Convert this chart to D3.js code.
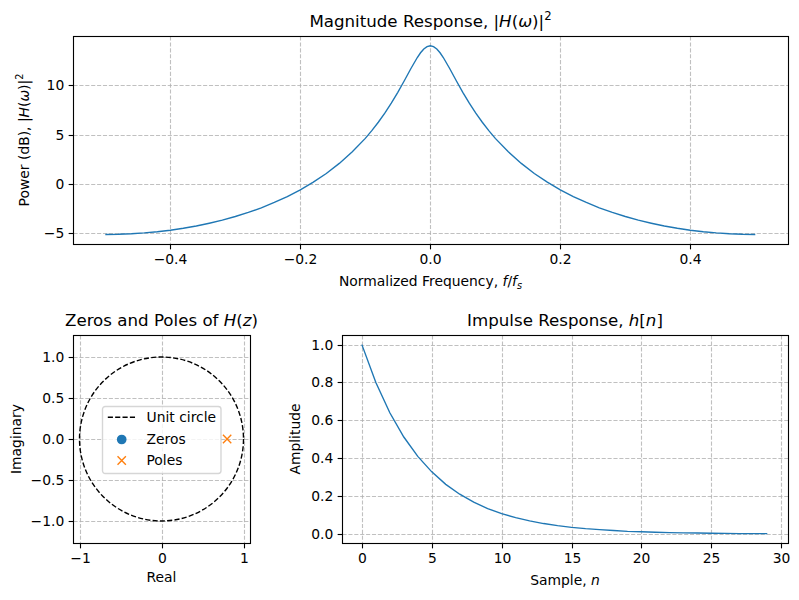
<!DOCTYPE html>
<html>
<head>
<meta charset="utf-8">
<script src="https://cdn.jsdelivr.net/npm/d3@7"></script>
<style>
  body { margin: 0; background: #fff; }
  text { font-family: "DejaVu Sans"; fill: #000; }
  .tick text { font-size: 13.89px; font-family: "DejaVu Sans"; }
  .tick line { stroke: #000; stroke-width: 1.11px; }
  .domain { display: none; }
  .grid line { stroke: #b0b0b0; stroke-opacity: 0.8; stroke-width: 1.11px; stroke-dasharray: 4.11 1.78; }
</style>
</head>
<body>
<div id="graph"></div>
<script>
const width = 799;
const height = 600;

const freq = [-0.5, -0.48, -0.46, -0.44, -0.42, -0.4, -0.38, -0.36, -0.34, -0.32, -0.3, -0.28, -0.26, -0.24, -0.22, -0.2,
  -0.18, -0.16, -0.14, -0.12, -0.1, -0.09, -0.08, -0.07, -0.06, -0.05, -0.04, -0.03, -0.02, -0.015, -0.01, -0.005,
  0, 0.005, 0.01, 0.015, 0.02, 0.03, 0.04, 0.05, 0.06, 0.07, 0.08, 0.09, 0.1,
  0.12, 0.14, 0.16, 0.18, 0.2, 0.22, 0.24, 0.26, 0.28, 0.3, 0.32, 0.34, 0.36, 0.38, 0.4, 0.42, 0.44, 0.46, 0.48, 0.5];
const powerDb = [-5.11, -5.09, -5.04, -4.95, -4.83, -4.68, -4.48, -4.25, -3.97, -3.66, -3.29, -2.88, -2.41, -1.87, -1.27, -0.59,
  0.18, 1.06, 2.08, 3.25, 4.61, 5.39, 6.24, 7.16, 8.17, 9.27, 10.44, 11.65, 12.79, 13.27, 13.65, 13.89,
  13.98, 13.89, 13.65, 13.27, 12.79, 11.65, 10.44, 9.27, 8.17, 7.16, 6.24, 5.39, 4.61,
  3.25, 2.08, 1.06, 0.18, -0.59, -1.27, -1.87, -2.41, -2.88, -3.29, -3.66, -3.97, -4.25, -4.48, -4.68, -4.83, -4.95, -5.04, -5.09, -5.11];

const samples = [0, 1, 2, 3, 4, 5, 6, 7, 8, 9, 10, 11, 12, 13, 14, 15, 16, 17, 18, 19, 20, 21, 22, 23, 24, 25, 26, 27, 28, 29];
const impulse = [1, 0.8, 0.64, 0.512, 0.41, 0.328, 0.262, 0.21, 0.168, 0.134, 0.107, 0.086, 0.069, 0.055, 0.044, 0.035,
  0.028, 0.023, 0.018, 0.014, 0.012, 0.009, 0.007, 0.006, 0.005, 0.004, 0.003, 0.002, 0.002, 0.002];

const polesRe = [0.8];
const polesIm = [0];
const unitRadius = [1];
const legendLabels = ['Unit circle', 'Zeros', 'Poles'];

const freqTicks = [-0.4, -0.2, 0, 0.2, 0.4];
const powerTicks = [-5, 0, 5, 10];
const reTicks = [-1, 0, 1];
const imTicks = [-1, -0.5, 0, 0.5, 1];
const sampleTicks = [0, 5, 10, 15, 20, 25, 30];
const ampTicks = [0, 0.2, 0.4, 0.6, 0.8, 1];

const blue = '#1f77b4';
const orange = '#ff7f0e';

const svg = d3.select('#graph')
  .append('svg')
  .attr('width', width)
  .attr('height', height)
  .style('display', 'block');

const minus = s => s.replace('-', '\u2212');
const fmt1 = d => minus(d3.format('.1f')(d));
const fmt0 = d => minus(d3.format('d')(d));
// thin lines sit on pixel centres
const snap = v => Math.round(v) + 0.5;

// text made of runs, so the math parts can be oblique or raised
function addText(parent, x, y, size, runs, rotate) {
  const t = parent.append('text')
    .attr('transform', `translate(${x},${y})` + (rotate ? ' rotate(-90)' : ''))
    .attr('text-anchor', 'middle')
    .style('font-size', size + 'px');
  let shift = 0;
  for (const r of runs) {
    const run = typeof r === 'string' ? {t: r} : r;
    const ts = t.append('tspan').text(run.t);
    if (run.i) ts.style('font-style', 'italic');
    const want = run.sup ? -size * 0.42 : run.sub ? size * 0.18 : 0;
    if (want !== shift) ts.attr('dy', want - shift);
    shift = want;
    if (run.sup || run.sub) ts.style('font-size', size * 0.7 + 'px');
  }
  return t;
}

function makeAxes(box, xDomain, yDomain, xTicks, yTicks, xFmt, yFmt) {
  const x = d3.scaleLinear().domain(xDomain).range([box.left, box.right]);
  const y = d3.scaleLinear().domain(yDomain).range([box.bottom, box.top]);
  const g = svg.append('g');
  const l = snap(box.left), r = snap(box.right), t = snap(box.top), b = snap(box.bottom);

  g.append('g').attr('class', 'grid').selectAll('line').data(xTicks).join('line')
    .attr('x1', d => snap(x(d))).attr('x2', d => snap(x(d)))
    .attr('y1', t).attr('y2', b);
  g.append('g').attr('class', 'grid').selectAll('line').data(yTicks).join('line')
    .attr('x1', l).attr('x2', r)
    .attr('y1', d => snap(y(d))).attr('y2', d => snap(y(d)));

  const marks = g.append('g');
  const over = g.append('g');

  const xAxis = over.append('g').attr('transform', `translate(0,${b})`)
    .call(d3.axisBottom(x).tickValues(xTicks).tickFormat(xFmt).tickSize(4.86).tickPadding(4.4));
  xAxis.selectAll('.tick').attr('transform', d => `translate(${snap(x(d))},0)`);
  const yAxis = over.append('g').attr('transform', `translate(${l},0)`)
    .call(d3.axisLeft(y).tickValues(yTicks).tickFormat(yFmt).tickSize(4.86).tickPadding(4.4));
  yAxis.selectAll('.tick').attr('transform', d => `translate(0,${snap(y(d))})`);

  over.append('rect')
    .attr('x', l).attr('y', t)
    .attr('width', r - l).attr('height', b - t)
    .attr('fill', 'none').attr('stroke', '#000').attr('stroke-width', 1.11);

  return {x, y, marks, over};
}

function addCurve(ax, xs, ys) {
  const line = d3.line().x(i => ax.x(xs[i])).y(i => ax.y(ys[i]));
  ax.marks.append('path')
    .attr('d', line(d3.range(xs.length)))
    .attr('fill', 'none')
    .attr('stroke', blue)
    .attr('stroke-width', 1.39);
}

// magnitude response
const axMag = makeAxes({left: 72.8, right: 787.8, top: 36.34, bottom: 243.9},
  [-0.55, 0.55], [-6.06, 14.93], freqTicks, powerTicks, fmt1, fmt0);
addCurve(axMag, freq, powerDb);
addText(svg, 430.5, 27, 16.67, ['Magnitude Response, |', {t: 'H', i: 1}, '(', {t: 'ω', i: 1}, ')|', {t: '2', sup: 1}]);
addText(svg, 430.5, 286, 13.89, ['Normalized Frequency, ', {t: 'f', i: 1}, '/', {t: 'f', i: 1}, {t: 's', i: 1, sub: 1}]);
addText(svg, 29, 140, 13.89, ['Power (dB), |', {t: 'H', i: 1}, '(', {t: 'ω', i: 1}, ')|', {t: '2', sup: 1}], true);

// zeros and poles
const axPz = makeAxes({left: 72.94, right: 250.06, top: 334.86, bottom: 543.14},
  [-1.08, 1.08], [-1.27, 1.27], reTicks, imTicks, fmt0, fmt1);
axPz.marks.selectAll('ellipse').data(unitRadius).join('ellipse')
  .attr('cx', axPz.x(0)).attr('cy', axPz.y(0))
  .attr('rx', d => axPz.x(d) - axPz.x(0))
  .attr('ry', d => axPz.y(0) - axPz.y(d))
  .attr('fill', 'none').attr('stroke', '#000')
  .attr('stroke-width', 1.39).attr('stroke-dasharray', '5.14 2.22');
const crossPath = 'M-4.17,-4.17L4.17,4.17M-4.17,4.17L4.17,-4.17';
axPz.marks.selectAll('.pole').data(polesRe).join('path')
  .attr('class', 'pole')
  .attr('transform', (d, i) => `translate(${axPz.x(d)},${axPz.y(polesIm[i])})`)
  .attr('d', crossPath)
  .attr('fill', 'none').attr('stroke', orange).attr('stroke-width', 1.39);

// legend
const lg = axPz.over.append('g').attr('transform', 'translate(102.5,406.5)');
lg.append('rect').attr('width', 118.5).attr('height', 67).attr('rx', 2.8)
  .attr('fill', '#fff').attr('fill-opacity', 0.8)
  .attr('stroke', '#ccc').attr('stroke-opacity', 0.8).attr('stroke-width', 1.39);
const rows = [10.8, 33, 54];
lg.selectAll('.lab').data(legendLabels).join('text')
  .attr('class', 'lab')
  .attr('x', 44).attr('y', (d, i) => rows[i] + 4.6)
  .style('font-size', '13.89px')
  .text(d => d);
lg.append('line').attr('x1', 5.3).attr('x2', 33.1).attr('y1', rows[0]).attr('y2', rows[0])
  .attr('stroke', '#000').attr('stroke-width', 1.39).attr('stroke-dasharray', '5.14 2.22');
lg.append('circle').attr('cx', 19.2).attr('cy', rows[1]).attr('r', 4.86).attr('fill', blue);
lg.append('path').attr('transform', `translate(19.2,${rows[2]})`).attr('d', crossPath)
  .attr('fill', 'none').attr('stroke', orange).attr('stroke-width', 1.39);

addText(svg, 161.5, 326, 16.67, ['Zeros and Poles of ', {t: 'H', i: 1}, '(', {t: 'z', i: 1}, ')']);
addText(svg, 161.5, 582, 13.89, ['Real']);
addText(svg, 21, 439, 13.89, ['Imaginary'], true);

// impulse response
const axImp = makeAxes({left: 341.6, right: 787.56, top: 335.16, bottom: 543.44},
  [-1.45, 30.45], [-0.05, 1.05], sampleTicks, ampTicks, fmt0, fmt1);
addCurve(axImp, samples, impulse);
addText(svg, 565, 326, 16.67, ['Impulse Response, ', {t: 'h', i: 1}, '[', {t: 'n', i: 1}, ']']);
addText(svg, 565, 585, 13.89, ['Sample, ', {t: 'n', i: 1}]);
addText(svg, 300, 439, 13.89, ['Amplitude'], true);
</script>
</body>
</html>
